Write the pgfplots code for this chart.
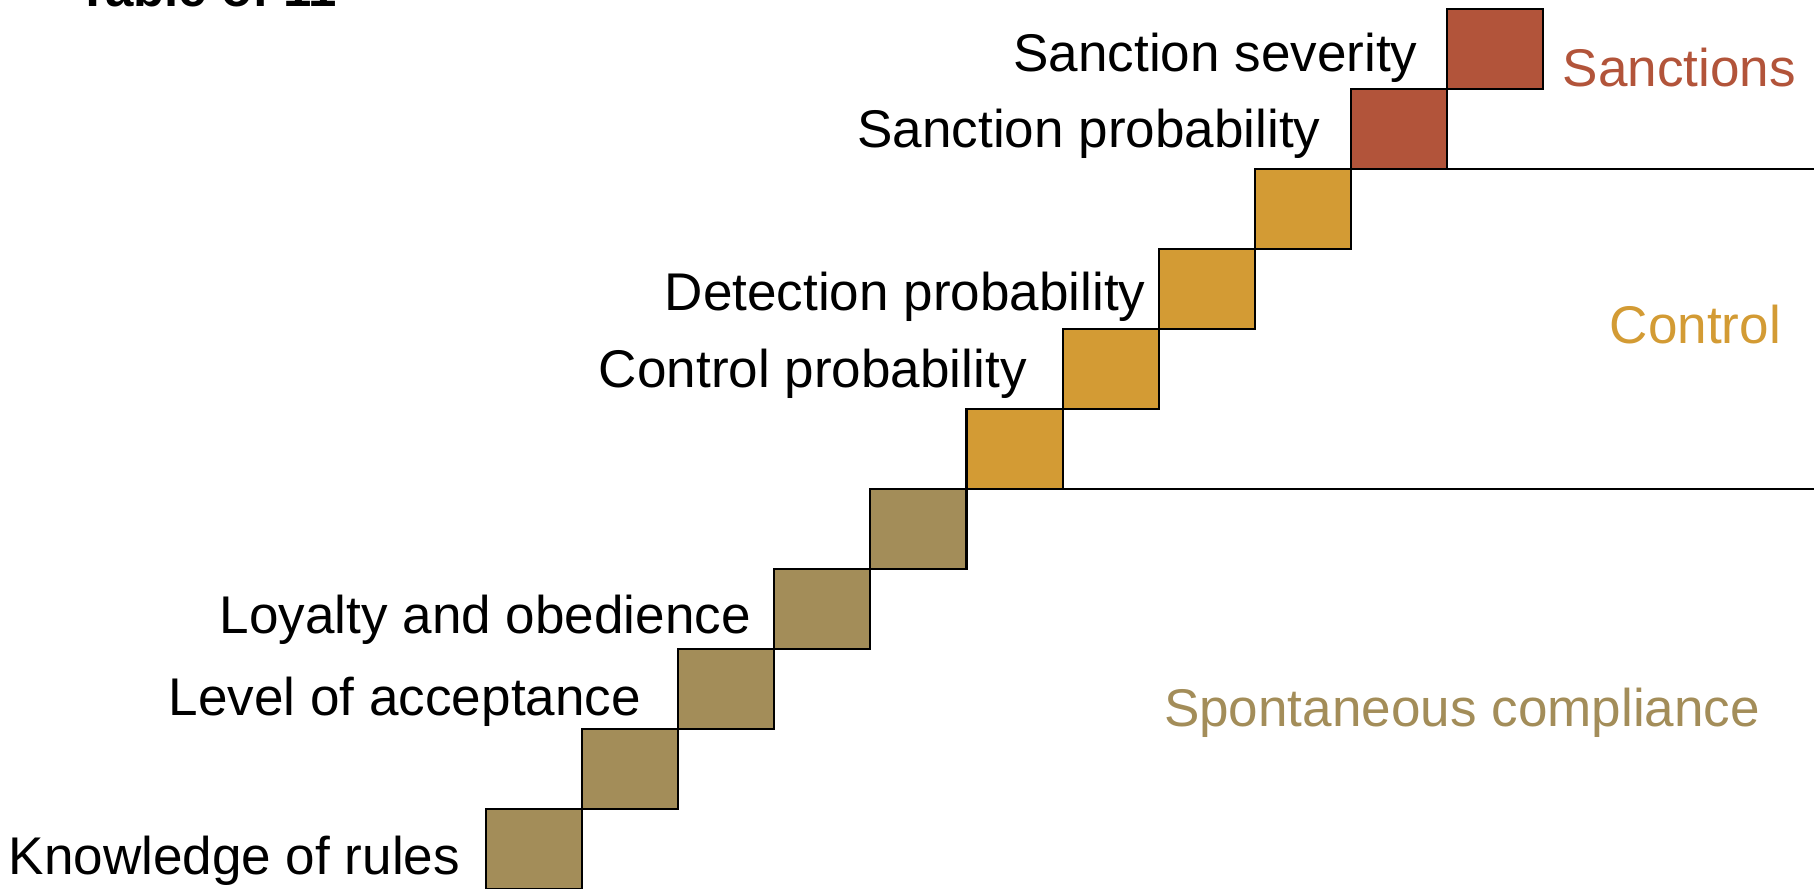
\documentclass[border=0pt]{standalone}
\usepackage{pgfplots}
\pgfplotsset{compat=1.18}
\usepackage{fontspec}
\setmainfont{Liberation Sans}
\definecolor{spont}{RGB}{163,141,89}
\definecolor{ctrl}{RGB}{211,155,52}
\definecolor{sanc}{RGB}{178,84,58}
\begin{document}
\begin{tikzpicture}
\useasboundingbox (0,0) rectangle (18.18cm,8.88cm);
\clip (0,0) rectangle (18.18cm,8.88cm);
\begin{axis}[
  at={(0,0)}, anchor=south west,
  x=0.961cm, y=0.8cm,
  xmin=-5.0572, xmax=13.8606, ymin=0.01625, ymax=11.11625,
  hide axis, clip=true,
]
% Spontaneous compliance
\addplot[fill=spont, draw=black, line width=0.6pt] coordinates {(0,0) (1,0) (1,1) (0,1)} -- cycle;
\addplot[fill=spont, draw=black, line width=0.6pt] coordinates {(1,1) (2,1) (2,2) (1,2)} -- cycle;
\addplot[fill=spont, draw=black, line width=0.6pt] coordinates {(2,2) (3,2) (3,3) (2,3)} -- cycle;
\addplot[fill=spont, draw=black, line width=0.6pt] coordinates {(3,3) (4,3) (4,4) (3,4)} -- cycle;
\addplot[fill=spont, draw=black, line width=0.6pt] coordinates {(4,4) (5,4) (5,5) (4,5)} -- cycle;
% Control
\addplot[fill=ctrl, draw=black, line width=0.6pt] coordinates {(5,5) (6,5) (6,6) (5,6)} -- cycle;
\addplot[fill=ctrl, draw=black, line width=0.6pt] coordinates {(6,6) (7,6) (7,7) (6,7)} -- cycle;
\addplot[fill=ctrl, draw=black, line width=0.6pt] coordinates {(7,7) (8,7) (8,8) (7,8)} -- cycle;
\addplot[fill=ctrl, draw=black, line width=0.6pt] coordinates {(8,8) (9,8) (9,9) (8,9)} -- cycle;
% Sanctions
\addplot[fill=sanc, draw=black, line width=0.6pt] coordinates {(9,9) (10,9) (10,10) (9,10)} -- cycle;
\addplot[fill=sanc, draw=black, line width=0.6pt] coordinates {(10,10) (11,10) (11,11) (10,11)} -- cycle;
% separators
\addplot[black, line width=0.6pt] coordinates {(6,5) (13.82,5)};
\addplot[black, line width=0.6pt] coordinates {(10,9) (13.82,9)};
\end{axis}
\begin{scope}[x=0.01cm, y=-0.01cm, shift={(0,8.88cm)}, every node/.style={inner sep=0pt, font=\fontsize{15.1}{18}\selectfont}]
\node[anchor=base west, font=\fontsize{14.5}{17}\selectfont\bfseries] at (77,7) {Table of 11};
\node[anchor=base east] at (1419,72) {Sanction severity};
\node[anchor=base east] at (1322,148) {Sanction probability};
\node[anchor=base east] at (1147,311) {Detection probability};
\node[anchor=base east] at (1028,388) {Control probability};
\node[anchor=base east] at (752,634) {Loyalty and obedience};
\node[anchor=base east] at (642,716) {Level of acceptance};
\node[anchor=base east] at (461,875) {Knowledge of rules};
\node[anchor=base west, text=sanc] at (1563,87) {Sanctions};
\node[anchor=base west, text=ctrl] at (1610,344) {Control};
\node[anchor=base west, text=spont] at (1164,727) {Spontaneous compliance};
\end{scope}
\end{tikzpicture}
\end{document}
